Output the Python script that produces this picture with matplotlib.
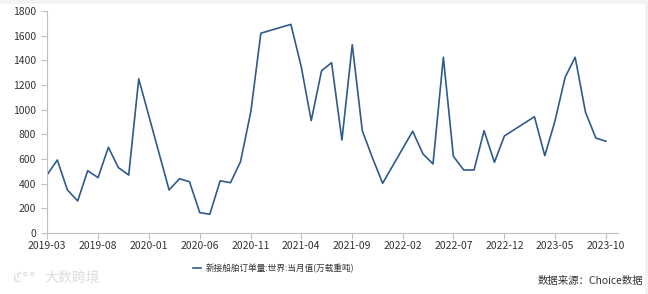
import pandas as pd
import matplotlib
matplotlib.use('Agg')
import matplotlib.pyplot as plt
import matplotlib.dates as mdates
from matplotlib.patches import Rectangle

plt.rcParams['font.family'] = ['Noto Sans CJK SC', 'DejaVu Sans']

# monthly new ship orders (Jan/Feb missing in most years)
months = ['2019-03', '2019-04', '2019-05', '2019-06', '2019-07', '2019-08', '2019-09',
          '2019-10', '2019-11', '2019-12',
          '2020-03', '2020-04', '2020-05', '2020-06', '2020-07', '2020-08', '2020-09',
          '2020-10', '2020-11', '2020-12',
          '2021-03', '2021-04', '2021-05', '2021-06', '2021-07', '2021-08', '2021-09',
          '2021-10', '2021-11', '2021-12',
          '2022-03', '2022-04', '2022-05', '2022-06', '2022-07', '2022-08', '2022-09',
          '2022-10', '2022-11', '2022-12',
          '2023-03', '2023-04', '2023-05', '2023-06', '2023-07', '2023-08', '2023-09',
          '2023-10']
values = [470, 592, 350, 260, 505, 449, 695, 530, 470, 1250,
          349, 440, 416, 165, 152, 423, 408, 578, 984, 1620,
          1692, 1349, 911, 1316, 1381, 754, 1527, 830, 606, 403,
          825, 641, 560, 1425, 622, 511, 511, 830, 573, 787,
          943, 627, 903, 1263, 1425, 979, 770, 744]
series_name = '新接船舶订单量:世界:当月值(万载重吨)'
source = '数据来源：Choice数据'

dates = pd.to_datetime(months)
tick_dates = pd.date_range('2019-03-01', '2023-10-01', freq='5MS')

fig = plt.figure(figsize=(6.48, 2.94), dpi=100)
fig.patch.set_facecolor('#f3f3f3')
fig.patches.append(Rectangle((0, 0), 0.996, 0.986, transform=fig.transFigure,
                             facecolor='white', edgecolor='none', zorder=-10))

ax = fig.add_axes([0.0725, 0.2075, 0.8815, 0.755])
ax.set_facecolor('none')
line, = ax.plot(dates, values, color='#2e5b8c', lw=1.2)

ax.set_ylim(0, 1800)
ax.set_yticks(range(0, 1801, 200))
ax.set_xlim(pd.Timestamp('2019-03-01'), pd.Timestamp('2023-11-07'))
ax.set_xticks(tick_dates)
ax.xaxis.set_major_formatter(mdates.DateFormatter('%Y-%m'))

for s in ['top', 'right']:
    ax.spines[s].set_visible(False)
for s in ['left', 'bottom']:
    ax.spines[s].set_color('#c0c0c0')
    ax.spines[s].set_linewidth(0.8)
ax.tick_params(axis='both', colors='#c0c0c0', labelcolor='#333333',
               labelsize=7.5, length=4, width=0.8)
ax.tick_params(axis='y', pad=4)
ax.tick_params(axis='x', pad=2)

leg = fig.legend([line], [series_name], loc='center left',
                 bbox_to_anchor=(0.286, 0.088), frameon=False,
                 handlelength=0.9, handletextpad=0.6, fontsize=6.2)
for t in leg.get_texts():
    t.set_color('#333333')

fig.text(0.992, 0.043, source, ha='right', va='center', fontsize=7.5, color='#333333')
fig.text(0.018, 0.055, 'ℭ°°', ha='left', va='center', fontsize=10, color='#dddddd',
         family=['DejaVu Sans'])
fig.text(0.068, 0.055, '大数跨境', ha='left', va='center', fontsize=10, color='#dddddd')

fig.savefig('out.png', dpi=100)
